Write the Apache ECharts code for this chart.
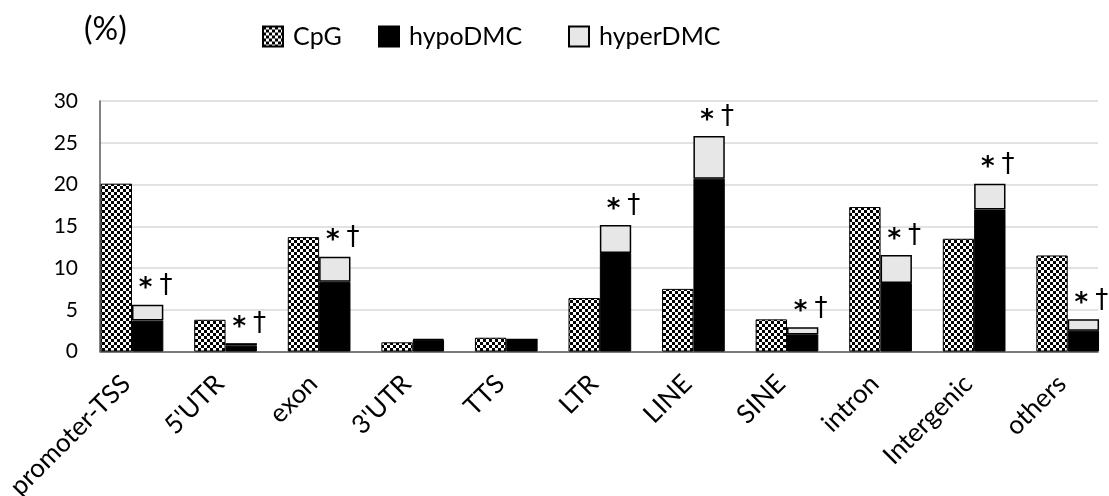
<!DOCTYPE html>
<html>
<head>
<meta charset="utf-8">
<script src="https://cdn.jsdelivr.net/npm/echarts@6/dist/echarts.min.js"></script>
<style>
  html, body { margin: 0; padding: 0; background: #fff; }
  #chart { width: 1109px; height: 496px; }
</style>
</head>
<body>
<div id="chart"></div>
<script>
// 各区域的比例 (%)
const categories = ['promoter-TSS', "5'UTR", 'exon', "3'UTR", 'TTS', 'LTR', 'LINE', 'SINE', 'intron', 'Intergenic', 'others']
const cpg = [20.1, 3.8, 13.7, 1.1, 1.65, 6.4, 7.5, 3.85, 17.3, 13.5, 11.5]
const hypoDMC = [3.7, 0.7, 8.35, 1.4, 1.45, 11.8, 20.7, 2.05, 8.2, 17.0, 2.5]
const hyperDMC = [1.9, 0.3, 3.0, 0.1, 0, 3.35, 5.1, 0.85, 3.35, 3.1, 1.35]
// significance marks above the DMC bars
const marks = ['*†', '*†', '*†', '', '', '*†', '*†', '*†', '*†', '*†', '*†']
const yTicks = [0, 5, 10, 15, 20, 25, 30]

const font = 'Lato'
const yMin = yTicks[0]
const yMax = yTicks[yTicks.length - 1]
const yStep = yTicks[1] - yTicks[0]

// checker pattern for CpG
const makePattern = () => {
  const c = document.createElement('canvas')
  c.width = 6
  c.height = 6
  const ctx = c.getContext('2d')
  ctx.fillStyle = '#fff'
  ctx.fillRect(0, 0, 6, 6)
  ctx.fillStyle = '#000'
  ctx.fillRect(0, 0, 3, 3)
  ctx.fillRect(3, 3, 3, 3)
  return c
}
const checker = { image: makePattern(), repeat: 'repeat' }

const plotTop = 101
const plotBottom = 144.5
const bandLeft = 85.2
const bandWidth = 1029.3

let myChart = echarts.init(document.getElementById('chart'))

let option = {
  animation: false,
  title: {
    text: '(%)',
    left: 79,
    top: 9,
    textStyle: { fontFamily: font, fontSize: 32, fontWeight: 'normal', color: '#000' },
  },
  legend: [
    { data: ['CpG'], left: 257, top: 19 },
    { data: ['hypoDMC'], left: 373, top: 19 },
    { data: ['hyperDMC'], left: 563, top: 19 },
  ].map((l) => ({
    ...l,
    icon: 'rect',
    itemWidth: 20,
    itemHeight: 20,
    selectedMode: false,
    textStyle: { fontFamily: font, fontSize: 25, color: '#000', padding: [0, 0, 0, 5] },
  })),
  grid: [
    // axes / gridlines
    { left: 100, right: 11, top: plotTop, bottom: plotBottom, outerBoundsMode: 'none' },
    // bars (category bands are wider than the visible plot)
    { left: bandLeft, width: bandWidth, top: plotTop, bottom: plotBottom, outerBoundsMode: 'none' },
    // category labels, nudged left like the original
    { left: bandLeft - 6, width: bandWidth, top: plotTop, bottom: plotBottom, outerBoundsMode: 'none' },
  ],
  xAxis: [
    {
      type: 'category',
      gridIndex: 0,
      data: categories,
      axisLine: { lineStyle: { color: '#595959', width: 1.5 } },
      axisTick: { show: false },
      axisLabel: { show: false },
    },
    {
      type: 'category',
      gridIndex: 1,
      data: categories,
      axisLine: { show: false },
      axisTick: { show: false },
      axisLabel: { show: false },
    },
    {
      type: 'category',
      gridIndex: 2,
      data: categories,
      axisLine: { show: false },
      axisTick: { show: false },
      axisLabel: {
        rotate: 45,
        margin: 28,
        interval: 0,
        fontFamily: font,
        fontSize: 26,
        color: '#000',
      },
    },
  ],
  yAxis: [
    {
      type: 'value',
      gridIndex: 0,
      min: yMin,
      max: yMax,
      interval: yStep,
      axisLine: { show: true, lineStyle: { color: '#595959', width: 1.5 } },
      axisTick: { show: false },
      axisLabel: { margin: 22, fontFamily: font, fontSize: 21, color: '#000' },
      splitLine: { lineStyle: { color: '#d9d9d9', width: 1.5 } },
    },
    {
      type: 'value',
      gridIndex: 1,
      min: yMin,
      max: yMax,
      interval: yStep,
      show: false,
      splitLine: { show: false },
    },
    {
      type: 'value',
      gridIndex: 2,
      min: yMin,
      max: yMax,
      interval: yStep,
      show: false,
      splitLine: { show: false },
    },
  ],
  series: [
    {
      name: 'CpG',
      type: 'bar',
      xAxisIndex: 1,
      yAxisIndex: 1,
      data: cpg,
      barGap: '0%',
      barCategoryGap: '33%',
      itemStyle: { color: checker, borderColor: '#000', borderWidth: 1 },
    },
    {
      name: 'hypoDMC',
      type: 'bar',
      stack: 'dmc',
      xAxisIndex: 1,
      yAxisIndex: 1,
      data: hypoDMC,
      itemStyle: { color: '#000', borderColor: '#000', borderWidth: 1 },
    },
    {
      name: 'hyperDMC',
      type: 'bar',
      stack: 'dmc',
      xAxisIndex: 1,
      yAxisIndex: 1,
      data: hyperDMC,
      itemStyle: { color: '#e7e7e7', borderColor: '#000', borderWidth: 1.5 },
      label: {
        show: true,
        position: 'top',
        distance: 2,
        offset: [8, 0],
        formatter: (p) => {
          const m = marks[p.dataIndex]
          return m ? '{a|' + m[0] + '}{b|' + m[1] + '}' : ''
        },
        rich: {
          a: { fontFamily: 'DejaVu Sans', fontSize: 26, fontWeight: 'bold', color: '#000', padding: [7, 0, 0, 0] },
          b: { fontFamily: 'DejaVu Sans', fontSize: 26, color: '#000', padding: [0, 0, 0, 7] },
        },
      },
    },
  ],
}

myChart.setOption(option)
</script>
</body>
</html>
